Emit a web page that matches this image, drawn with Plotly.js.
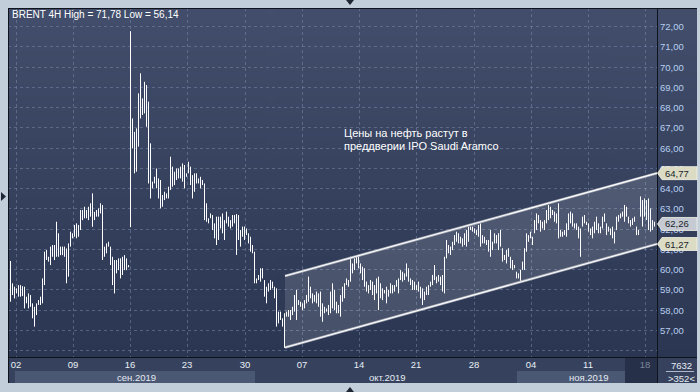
<!DOCTYPE html>
<html><head><meta charset="utf-8">
<script src="https://cdn.plot.ly/plotly-3.0.1.min.js"></script>
<style>html,body{margin:0;padding:0;background:#c3cedb;overflow:hidden}#chart{width:700px;height:392px}</style>
</head><body><div id="chart"></div>
<script>
// ---------- data ----------
const instrument = 'BRENT 4H';
const highs = [
60.43,59.33,59.16,59.08,59.24,59.24,59.19,59.16,58.67,58.83,
58.75,58.34,58.17,58.34,58.50,58.67,59.57,60.89,60.97,60.64,
61.14,61.22,61.22,62.37,61.80,61.14,61.14,61.14,61.05,61.30,
61.88,61.80,62.21,62.29,62.21,62.95,62.95,63.11,62.95,63.11,
63.28,63.77,62.86,62.95,63.03,63.28,63.19,61.14,61.30,61.38,
61.14,60.64,60.48,60.48,60.56,60.56,60.64,60.72,60.56,60.23,
71.78,67.47,66.81,66.98,68.71,69.70,68.46,69.28,69.12,68.30,
66.24,64.35,64.59,65.00,64.51,64.43,63.69,63.85,63.77,64.10,
65.58,65.09,64.84,65.00,65.00,65.09,65.25,65.17,64.76,65.33,
65.09,64.67,64.76,64.76,64.51,64.59,64.43,64.26,
63.28,62.54,62.78,62.70,62.29,62.62,62.62,62.62,62.78,62.45,
62.87,62.62,62.45,62.70,62.70,62.75,62.70,61.96,62.13,62.13,
62.04,61.80,61.63,61.22,60.89,59.57,59.74,60.07,60.07,59.49,
59.16,59.33,59.49,59.41,59.16,59.08,57.93,57.93,57.60,57.85,
57.93,58.01,58.01,58.17,58.75,59.00,58.50,58.42,58.34,58.50,
58.75,59.66,59.16,58.83,58.75,58.92,58.83,58.92,58.34,58.17,
58.09,58.26,58.92,59.33,59.00,58.42,58.26,58.75,59.16,59.33,
59.57,59.49,60.64,60.31,60.56,60.64,60.73,60.31,60.15,60.07,
59.41,59.24,59.49,59.41,59.24,59.57,59.66,59.33,59.08,59.00,
59.16,59.00,59.33,59.24,59.24,59.49,59.57,59.98,59.90,59.82,
60.31,60.07,59.57,59.49,59.41,59.24,59.41,59.16,59.08,58.92,
59.16,59.24,59.41,59.74,60.23,59.66,59.74,59.66,59.74,60.64,
61.47,61.22,61.14,61.38,61.71,61.88,61.80,61.63,61.55,61.80,
61.96,
62.13,62.13,62.13,62.04,61.96,62.21,62.29,61.71,61.63,61.47,
61.47,61.96,61.38,61.80,61.71,61.80,61.96,61.06,60.73,60.97,
61.06,60.64,60.48,60.23,59.90,59.82,59.99,60.40,61.06,61.80,
61.71,61.88,61.63,62.45,62.78,62.70,62.45,62.37,62.45,62.95,
63.20,63.11,62.95,62.87,62.78,63.28,61.96,61.88,61.96,62.29,
62.78,62.87,62.78,62.29,62.29,62.13,62.04,62.62,62.70,62.37,
62.29,62.04,62.13,62.37,62.62,62.29,62.13,62.62,62.78,62.29,
62.13,62.04,62.13,61.88,62.62,62.70,62.78,62.87,63.20,63.11,
62.62,62.45,62.54,62.62,62.13,61.96,
63.62,63.44,63.52,63.44,63.52,63.03,62.45,62.37
];
const lows = [
58.42,58.75,58.58,58.83,58.67,58.67,58.70,58.09,58.34,58.09,
58.17,57.60,57.19,57.76,58.26,58.26,58.34,59.24,60.48,60.40,
60.23,60.64,60.48,60.64,60.64,60.72,60.72,60.64,59.33,59.66,
61.14,61.55,61.63,61.55,61.63,61.96,62.45,62.54,62.54,62.45,
62.62,62.12,62.45,62.62,62.62,62.78,60.48,60.64,60.81,61.14,
60.23,59.24,58.83,59.82,59.98,59.57,59.74,59.98,59.98,60.12,
62.10,65.99,64.76,64.84,66.08,67.47,67.64,67.72,67.06,64.26,
63.52,64.02,64.26,64.02,63.52,63.03,63.11,63.44,63.52,63.52,
63.94,64.10,64.18,64.43,64.51,64.51,64.35,64.02,64.59,64.76,
64.18,63.52,63.85,64.26,64.26,64.02,64.18,62.45,
62.37,62.29,62.54,61.96,61.55,61.22,61.47,62.04,61.80,61.47,
62.29,62.13,62.04,62.13,62.29,60.73,61.47,61.14,61.63,61.47,
61.71,61.30,60.89,60.81,59.33,59.33,59.49,59.41,59.57,58.67,
58.34,58.92,59.00,59.08,58.59,57.19,57.35,57.52,57.19,56.14,
57.68,57.68,57.52,57.76,57.93,57.52,58.26,58.17,58.01,58.09,
58.34,58.42,58.59,58.34,58.42,58.34,58.17,57.68,57.43,57.85,
57.93,57.76,57.85,58.09,58.01,57.85,57.85,57.68,58.42,58.59,
59.24,59.16,59.41,59.82,59.98,60.31,60.07,59.82,59.49,59.16,
58.92,58.83,59.00,58.75,58.50,58.83,58.01,58.59,58.50,58.83,
58.34,58.67,58.83,58.83,58.92,59.16,58.83,59.49,59.41,59.49,
59.66,59.41,59.24,59.00,59.00,59.00,58.92,58.59,58.26,58.50,
58.75,58.75,59.16,59.24,59.49,59.33,59.41,59.24,58.92,58.83,
60.56,60.81,60.73,60.97,61.22,61.38,61.30,61.30,61.14,61.22,
61.14,
61.38,61.96,61.88,61.80,61.71,61.63,61.14,61.30,61.30,61.22,
60.89,60.64,60.97,61.30,61.30,60.97,61.14,60.40,60.48,60.31,
60.64,60.07,59.99,60.07,59.57,59.57,59.41,59.99,59.99,60.89,
61.38,61.55,61.22,61.80,61.96,62.29,61.88,62.04,61.96,62.29,
62.45,62.54,62.70,62.37,62.29,61.55,61.63,61.63,61.71,61.63,
61.96,62.29,62.13,62.04,61.96,61.55,60.64,62.13,62.29,62.21,
61.88,61.71,61.55,61.80,61.96,61.80,61.80,62.04,62.37,61.71,
61.88,61.71,61.55,61.30,61.96,62.37,62.54,62.62,62.37,62.62,
62.29,62.13,62.21,62.37,61.71,61.71,
62.62,62.13,62.62,62.46,61.96,61.88,61.96,62.13
];
const weekLabels = ['02','09','16','23','30','07','14','21','28','04','11','18'];
const weekStartBar = [2.75,31.25,59.75,88.25,117.25,145.75,174.25,202.75,231.75,260.25,288.75,317.25];
const monthLabels = ['сен.2019','окт.2019','ноя.2019'];
const priceTicks = [56,57,58,59,60,61,62,63,64,65,66,67,68,69,70,71,72];
const channelX = [137.25, 323.25];
const channelUpper = [59.69, 64.77];
const channelLower = [56.16, 61.27];
const lastClose = 62.26;
const noteLines = ['Цены на нефть растут в', 'преддверии IPO Saudi Aramco'];
const totalBars = 7632;
const visibleBars = 352;

// ---------- helpers ----------
const W = 700, H = 392, ML = 8, MR = 43, MT = 8, MB = 35;
const PW = W - ML - MR, PH = H - MT - MB;
const px2x = p => (p - ML) / PW;
const py2y = p => (H - MB - p) / PH;
const yRange = [55.69, 72.925];
const v2y = v => (v - yRange[0]) / (yRange[1] - yRange[0]);
const fmt = v => v.toFixed(2).replace('.', ',');
const FONT = 'Liberation Sans, Arial, sans-serif';

// gradient background image
const cv = document.createElement('canvas'); cv.width = 4; cv.height = 256;
const ctx = cv.getContext('2d');
const gr = ctx.createLinearGradient(0, 0, 0, 256);
gr.addColorStop(0, '#424e6b'); gr.addColorStop(1, '#2b3652');
ctx.fillStyle = gr; ctx.fillRect(0, 0, 4, 256);
const bgURL = cv.toDataURL();

// bars (high-low vertical strokes)
const bx = [], by = [];
for (let i = 0; i < highs.length; i++) { bx.push(i, i, null); by.push(lows[i], highs[i], null); }

const traces = [
  { type: 'scatter', mode: 'lines', hoverinfo: 'skip',
    x: [channelX[0], channelX[1], channelX[1], channelX[0], channelX[0]],
    y: [channelLower[0], channelLower[1], channelUpper[1], channelUpper[0], channelLower[0]],
    fill: 'toself', fillcolor: 'rgba(255,255,255,0.13)', line: { width: 0 } },
  { type: 'scatter', mode: 'lines', x: bx, y: by, hoverinfo: 'skip',
    line: { color: '#ffffff', width: 1 } },
  { type: 'scatter', mode: 'lines', x: channelX, y: channelUpper, line: { color: 'rgba(175,180,190,0.9)', width: 2.6 }, hoverinfo: 'skip' },
  { type: 'scatter', mode: 'lines', x: channelX, y: channelLower, line: { color: 'rgba(175,180,190,0.9)', width: 2.6 }, hoverinfo: 'skip' },
  { type: 'scatter', mode: 'lines', x: channelX, y: channelUpper, line: { color: '#ffffff', width: 1.1 }, hoverinfo: 'skip' },
  { type: 'scatter', mode: 'lines', x: channelX, y: channelLower, line: { color: '#ffffff', width: 1.1 }, hoverinfo: 'skip' }
];

const rect = (x0, y0, x1, y1, color, layer) => ({ type: 'rect', xref: 'paper', yref: 'paper',
  x0: px2x(x0), x1: px2x(x1), y0: py2y(y0), y1: py2y(y1), fillcolor: color, line: { width: 0 }, layer: layer || 'below' });
const line = (x0, y0, x1, y1, color) => ({ type: 'line', xref: 'paper', yref: 'paper',
  x0: px2x(x0), x1: px2x(x1), y0: py2y(y0), y1: py2y(y1), line: { color: color, width: 1 }, layer: 'above' });
const poly = (pts, color, lc) => ({ type: 'path', xref: 'paper', yref: 'paper', layer: 'above',
  path: 'M' + pts.map(p => px2x(p[0]) + ',' + py2y(p[1])).join(' L') + ' Z',
  fillcolor: color, line: { color: lc || color, width: lc ? 0.8 : 0 } });
const priceBox = (v, color) => {
  const p = 26.7 + (72 - v) * 20.25; // placeholder overwritten below
  return null;
};
const valPy = v => H - MB - v2y(v) * PH;
const boxShape = (v, color) => {
  const c = valPy(v);
  return poly([[657.5, c], [662, c - 6.5], [697, c - 6.5], [697, c + 6.5], [662, c + 6.5]], color, '#f4f4ea');
};

const shapes = [
  rect(8, 357, 697, 383, '#36425d'),
  rect(15, 371, 255, 383, '#4a5874'),
  rect(517, 371, 625, 383, '#4a5874'),
  rect(625, 357, 657, 383, '#273049'),
  line(8.5, 8, 8.5, 383, '#0f131b'),
  line(8, 8.5, 697, 8.5, '#0f131b'),
  line(657.5, 8, 657.5, 383, '#0f131b'),
  line(8, 357.5, 697, 357.5, '#0f131b'),
  line(666, 371.5, 694, 371.5, '#aeb8c8'),
  boxShape(channelUpper[1], '#dcdcc4'),
  boxShape(lastClose, '#c6cad2'),
  boxShape(channelLower[1], '#dcdcc4'),
  poly([[346, 0], [354, 0], [350, 5]], '#1e2636'),
  poly([[346, 392], [354, 392], [350, 387]], '#1e2636'),
  poly([[1, 192], [1, 201], [6, 196.5]], '#1e2636')
];

const ann = (text, x, y, opts) => Object.assign({ text: text, xref: 'paper', yref: 'paper',
  x: px2x(x), y: py2y(y), showarrow: false, xanchor: 'left', yanchor: 'middle',
  font: { family: FONT, size: 10, color: '#ffffff' } }, opts || {});

const hi = Math.max(...highs), lo = Math.min(...lows);
const annotations = [
  ann(instrument + ' High = ' + fmt(hi) + ' Low = ' + fmt(lo), 9.5, 15, { font: { family: FONT, size: 10, color: '#ffffff' } }),
  ann(noteLines[0], 341.5, 133, { font: { family: FONT, size: 11, color: '#ffffff' } }),
  ann(noteLines[1], 341.5, 145.5, { font: { family: FONT, size: 11, color: '#ffffff' } }),
  ann(monthLabels[0], 136, 377.5, { xanchor: 'center', font: { family: FONT, size: 9.5, color: '#e4eaf2' } }),
  ann(monthLabels[1], 387, 377.5, { xanchor: 'center', font: { family: FONT, size: 9.5, color: '#e4eaf2' } }),
  ann(monthLabels[2], 588, 377.5, { xanchor: 'center', font: { family: FONT, size: 9.5, color: '#e4eaf2' } }),
  ann(String(totalBars), 681, 365, { xanchor: 'center', font: { family: FONT, size: 9.5, color: '#e4eaf2' } }),
  ann('&gt;' + visibleBars + '&lt;', 681, 378, { xanchor: 'center', font: { family: FONT, size: 9.5, color: '#e4eaf2' } }),
  ann(fmt(channelUpper[1]), 663, valPy(channelUpper[1]), { font: { family: FONT, size: 9.5, color: '#1a1f2b' } }),
  ann(fmt(lastClose), 663, valPy(lastClose), { font: { family: FONT, size: 9.5, color: '#1a1f2b' } }),
  ann(fmt(channelLower[1]), 663, valPy(channelLower[1]), { font: { family: FONT, size: 9.5, color: '#1a1f2b' } })
];

const layout = {
  width: W, height: H,
  margin: { l: ML, r: MR, t: MT, b: MB, pad: 0 },
  paper_bgcolor: '#c3cedb', plot_bgcolor: 'rgba(0,0,0,0)',
  showlegend: false, separators: ', ',
  font: { family: FONT, size: 9.5, color: '#e8eef6' },
  images: [{ source: bgURL, xref: 'paper', yref: 'paper', x: 0, y: 1,
    sizex: px2x(697), sizey: 1, xanchor: 'left', yanchor: 'top', sizing: 'stretch', layer: 'below' }],
  xaxis: { range: [-1.25, 323.25], tickmode: 'array', tickvals: weekStartBar,
    ticktext: weekLabels.map((t, i) => i === weekLabels.length - 1 ? '<span style="color:#7b879c">' + t + '</span>' : t),
    showgrid: true, gridcolor: 'rgba(120,136,168,0.55)', griddash: '3px,3px', gridwidth: 1,
    zeroline: false, showline: false, ticks: '', tickfont: { family: FONT, size: 9.5, color: '#e8eef6' },
    fixedrange: true },
  yaxis: { side: 'right', range: yRange, tickmode: 'array', tickvals: priceTicks,
    ticktext: priceTicks.map(v => v < 57 ? '' : fmt(v)),
    showgrid: true, gridcolor: 'rgba(120,136,168,0.55)', griddash: '3px,3px', gridwidth: 1,
    zeroline: false, showline: false, ticks: '', ticklabelstandoff: 2,
    tickfont: { family: FONT, size: 9.5, color: '#b7cff0' }, fixedrange: true },
  shapes: shapes, annotations: annotations
};

Plotly.newPlot('chart', traces, layout, { staticPlot: true, displayModeBar: false });
</script>
</body></html>
